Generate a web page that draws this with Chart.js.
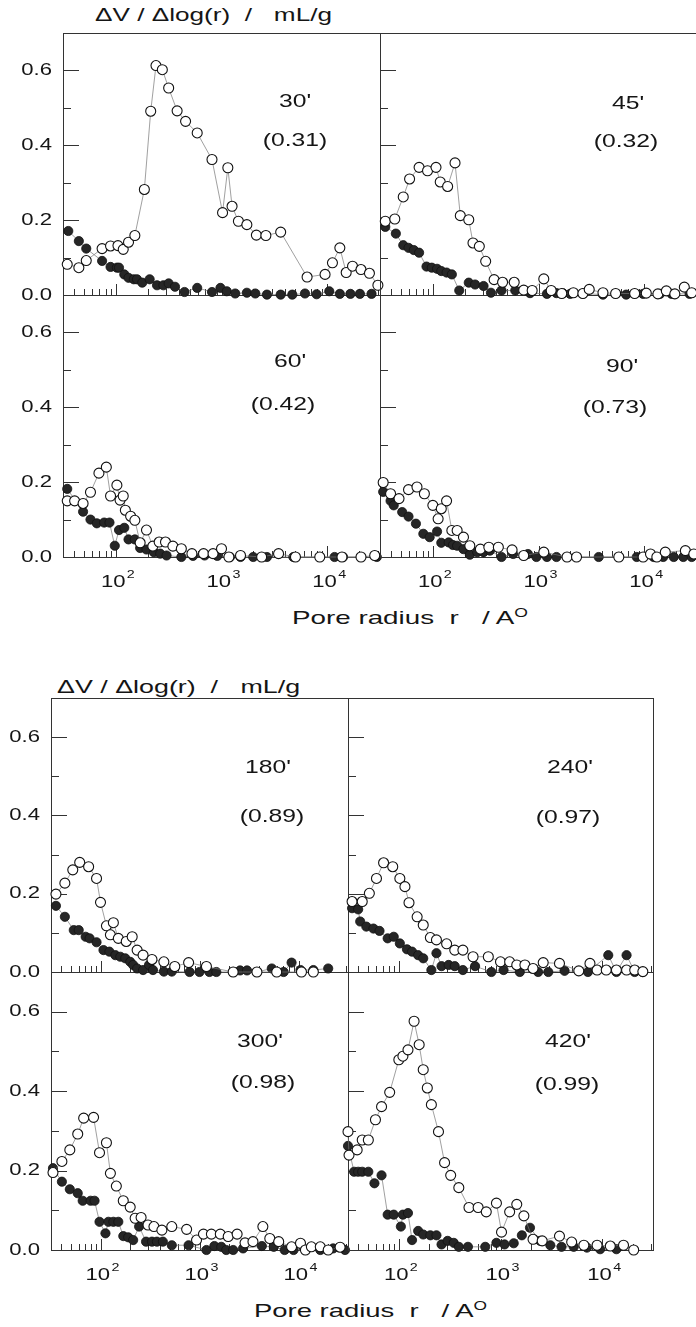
<!DOCTYPE html>
<html>
<head>
<meta charset="utf-8">
<script src="https://cdn.jsdelivr.net/npm/chart.js@4.4.0/dist/chart.umd.min.js"></script>
<style>
  html, body { margin: 0; padding: 0; background: #fff; }
  body { width: 696px; height: 1327px; overflow: hidden; position: relative; font-family: "Liberation Sans", Arial, sans-serif; color: #151515; }
  canvas { position: absolute; }
  .title { position: absolute; white-space: pre; font-size: 19px; line-height: 20px; transform-origin: 0 50%; }
  .title sup { font-size: 12px; vertical-align: 7px; line-height: 0; }
</style>
</head>
<body>
<div class="title" data-w="237" style="left:95px; top:5px">ΔV / Δlog(r)  /   mL/g</div>
<div class="title" data-w="236" style="left:292px; top:608px">Pore radius  r   / A<sup>O</sup></div>
<div class="title" data-w="243" style="left:57px; top:677px">ΔV / Δlog(r)  /   mL/g</div>
<div class="title" data-w="233" style="left:254px; top:1301px">Pore radius  r   / A<sup>O</sup></div>
<script>
// each point: [log10(r / Å), ΔV/Δlog(r) in mL/g]
// open = open circles, fill = filled circles
const open30 = [[1.54,0.082],[1.65,0.073],[1.72,0.092],[1.87,0.124],[1.95,0.131],[2.02,0.132],[2.07,0.122],[2.12,0.141],[2.18,0.159],[2.27,0.282],[2.33,0.491],[2.38,0.613],[2.44,0.602],[2.50,0.553],[2.58,0.492],[2.66,0.464],[2.77,0.433],[2.91,0.362],[3.01,0.22],[3.06,0.34],[3.10,0.237],[3.16,0.197],[3.24,0.188],[3.33,0.16],[3.42,0.159],[3.56,0.168],[3.81,0.048],[3.98,0.055],[4.05,0.086],[4.12,0.126],[4.18,0.06],[4.24,0.077],[4.32,0.068],[4.40,0.058],[4.48,0.026]];
const fill30 = [[1.55,0.171],[1.65,0.144],[1.72,0.124],[1.87,0.091],[1.95,0.075],[2.01,0.073],[2.03,0.073],[2.08,0.055],[2.12,0.046],[2.17,0.042],[2.20,0.042],[2.25,0.033],[2.32,0.042],[2.39,0.026],[2.45,0.026],[2.50,0.031],[2.56,0.022],[2.65,0.008],[2.77,0.019],[2.91,0.008],[2.99,0.019],[3.05,0.01],[3.13,0.004],[3.24,0.006],[3.32,0.004],[3.43,0.001],[3.56,0.001],[3.67,0.001],[3.79,0.004],[3.90,0.002],[4.02,0.01],[4.12,0.003],[4.22,0.003],[4.31,0.003],[4.42,0.003]];

const open45 = [[1.55,0.197],[1.64,0.203],[1.72,0.262],[1.78,0.31],[1.87,0.341],[1.95,0.332],[2.03,0.341],[2.07,0.302],[2.14,0.29],[2.21,0.353],[2.26,0.212],[2.34,0.201],[2.38,0.139],[2.44,0.13],[2.50,0.09],[2.58,0.041],[2.66,0.034],[2.77,0.034],[2.86,0.013],[2.94,0.012],[3.05,0.043],[3.12,0.012],[3.22,0.004],[3.33,0.006],[3.42,0.004],[3.48,0.015],[3.61,0.006],[3.73,0.004],[3.91,0.004],[4.02,0.005],[4.13,0.003],[4.21,0.011],[4.29,0.003],[4.38,0.021],[4.45,0.006]];
const fill45 = [[1.55,0.182],[1.65,0.164],[1.72,0.133],[1.77,0.126],[1.82,0.12],[1.87,0.113],[1.94,0.076],[1.99,0.073],[2.04,0.07],[2.08,0.064],[2.13,0.06],[2.18,0.055],[2.25,0.012],[2.34,0.033],[2.40,0.028],[2.48,0.024],[2.55,0.006],[2.65,0.012],[2.78,0.012],[2.92,0.005],[3.08,0.003],[3.17,0.005],[3.23,0.005],[3.30,0.003],[3.42,0.004],[3.61,0.001],[3.83,0.001],[3.99,0.003],[4.15,0.003],[4.26,0.003],[4.43,0.003]];

const open60 = [[1.54,0.15],[1.61,0.15],[1.69,0.143],[1.76,0.173],[1.84,0.224],[1.91,0.24],[1.95,0.163],[2.01,0.192],[2.04,0.152],[2.07,0.163],[2.09,0.125],[2.14,0.109],[2.18,0.098],[2.23,0.038],[2.29,0.072],[2.35,0.029],[2.41,0.04],[2.47,0.04],[2.54,0.029],[2.62,0.022],[2.72,0.009],[2.83,0.009],[2.92,0.009],[3.00,0.022],[3.07,0.0],[3.18,0.004],[3.38,0.0],[3.54,0.009],[3.70,0.0],[3.93,0.0],[4.14,0.0],[4.32,0.0],[4.45,0.004]];
const fill60 = [[1.54,0.182],[1.69,0.121],[1.76,0.1],[1.82,0.09],[1.89,0.092],[1.94,0.092],[1.99,0.03],[2.03,0.072],[2.08,0.078],[2.12,0.047],[2.18,0.047],[2.23,0.024],[2.29,0.02],[2.36,0.013],[2.42,0.009],[2.48,0.004],[2.62,0.0],[2.73,0.003],[2.84,0.004],[2.96,0.003],[3.08,0.0],[3.18,0.0],[3.30,0.0],[3.43,0.0],[3.68,0.0],[4.07,0.0],[4.15,0.0],[4.47,0.0]];

const open90 = [[1.53,0.199],[1.60,0.169],[1.68,0.156],[1.77,0.18],[1.85,0.187],[1.92,0.169],[2.00,0.138],[2.05,0.102],[2.08,0.129],[2.13,0.15],[2.18,0.071],[2.23,0.071],[2.29,0.053],[2.35,0.03],[2.45,0.021],[2.53,0.026],[2.62,0.026],[2.75,0.019],[2.86,0.004],[3.05,0.013],[3.27,0.0],[3.36,0.0],[3.76,0.0],[3.99,0.0],[4.06,0.008],[4.12,0.0],[4.20,0.013],[4.39,0.017],[4.47,0.008]];
const fill90 = [[1.53,0.174],[1.60,0.15],[1.63,0.138],[1.71,0.12],[1.77,0.108],[1.84,0.089],[1.91,0.062],[1.97,0.053],[2.04,0.068],[2.08,0.038],[2.15,0.039],[2.19,0.032],[2.23,0.03],[2.29,0.021],[2.35,0.006],[2.42,0.013],[2.48,0.013],[2.54,0.017],[2.65,0.0],[2.76,0.008],[2.90,0.008],[2.98,0.0],[3.08,0.0],[3.17,0.0],[3.57,0.0],[3.93,0.0],[4.09,0.0],[4.18,0.0],[4.28,0.0],[4.37,0.0],[4.45,0.0]];

const open180 = [[1.55,0.199],[1.64,0.227],[1.72,0.261],[1.79,0.28],[1.88,0.269],[1.96,0.239],[2.00,0.178],[2.06,0.118],[2.10,0.095],[2.13,0.126],[2.18,0.086],[2.26,0.078],[2.32,0.09],[2.37,0.056],[2.43,0.043],[2.52,0.032],[2.64,0.026],[2.75,0.014],[2.89,0.024],[3.07,0.014],[3.34,0.0],[3.58,0.0],[3.78,0.0],[4.03,0.0],[4.15,0.0]];
const fill180 = [[1.55,0.169],[1.64,0.141],[1.73,0.107],[1.78,0.107],[1.85,0.09],[1.89,0.086],[1.96,0.076],[2.03,0.056],[2.09,0.052],[2.15,0.043],[2.20,0.039],[2.25,0.035],[2.30,0.026],[2.33,0.018],[2.37,0.009],[2.43,0.005],[2.49,0.018],[2.53,0.005],[2.64,0.001],[2.72,0.001],[2.90,0.0],[3.00,0.0],[3.10,0.0],[3.17,0.0],[3.34,0.0],[3.41,0.004],[3.48,0.004],[3.58,0.0],[3.73,0.009],[3.85,0.0],[3.93,0.024],[4.02,0.005],[4.15,0.005],[4.30,0.009]];

const open240 = [[1.54,0.18],[1.64,0.18],[1.71,0.201],[1.78,0.239],[1.85,0.279],[1.94,0.269],[2.01,0.239],[2.06,0.218],[2.10,0.177],[2.18,0.141],[2.24,0.12],[2.31,0.088],[2.37,0.082],[2.47,0.072],[2.55,0.056],[2.63,0.056],[2.73,0.039],[2.88,0.039],[3.00,0.026],[3.09,0.026],[3.16,0.018],[3.24,0.018],[3.32,0.009],[3.42,0.024],[3.58,0.022],[3.77,0.003],[3.88,0.022],[3.95,0.005],[4.04,0.005],[4.14,0.005],[4.24,0.005],[4.32,0.005],[4.40,0.001]];
const fill240 = [[1.54,0.163],[1.60,0.16],[1.62,0.129],[1.68,0.116],[1.75,0.111],[1.81,0.105],[1.89,0.086],[1.95,0.09],[2.01,0.073],[2.08,0.058],[2.13,0.052],[2.19,0.043],[2.24,0.035],[2.32,0.005],[2.37,0.048],[2.42,0.015],[2.49,0.018],[2.55,0.015],[2.63,0.005],[2.75,0.015],[2.91,0.0],[3.03,0.005],[3.19,0.0],[3.37,0.0],[3.47,0.0],[3.63,0.003],[3.86,0.0],[4.06,0.043],[4.14,0.0],[4.24,0.043],[4.32,0.0],[4.40,0.0]];

const open300 = [[1.52,0.195],[1.61,0.223],[1.69,0.252],[1.77,0.292],[1.83,0.332],[1.93,0.334],[1.99,0.245],[2.06,0.27],[2.10,0.193],[2.16,0.161],[2.23,0.124],[2.30,0.108],[2.35,0.08],[2.41,0.082],[2.48,0.063],[2.54,0.059],[2.62,0.05],[2.72,0.059],[2.87,0.052],[2.97,0.025],[3.04,0.04],[3.12,0.04],[3.21,0.04],[3.29,0.034],[3.38,0.04],[3.46,0.018],[3.54,0.021],[3.64,0.059],[3.71,0.029],[3.80,0.021],[3.93,0.008],[4.02,0.017],[4.07,0.0],[4.13,0.008],[4.22,0.008],[4.30,0.0],[4.42,0.007]];
const fill300 = [[1.52,0.206],[1.61,0.172],[1.69,0.153],[1.77,0.143],[1.82,0.124],[1.90,0.124],[1.94,0.124],[1.99,0.071],[2.05,0.042],[2.08,0.071],[2.13,0.071],[2.18,0.071],[2.23,0.035],[2.28,0.032],[2.33,0.025],[2.39,0.059],[2.46,0.021],[2.52,0.021],[2.57,0.021],[2.63,0.021],[2.72,0.012],[2.89,0.012],[3.07,0.0],[3.15,0.01],[3.22,0.008],[3.27,0.0],[3.34,0.0],[3.44,0.004],[3.63,0.01],[3.75,0.008],[3.86,0.0],[3.95,0.0],[4.22,0.0],[4.35,0.004],[4.47,0.0]];

const open420 = [[1.50,0.298],[1.51,0.239],[1.59,0.252],[1.64,0.277],[1.70,0.277],[1.77,0.328],[1.83,0.361],[1.91,0.397],[2.00,0.479],[2.04,0.488],[2.09,0.504],[2.15,0.576],[2.20,0.517],[2.24,0.454],[2.28,0.408],[2.32,0.366],[2.39,0.298],[2.45,0.22],[2.51,0.188],[2.59,0.157],[2.69,0.107],[2.78,0.107],[2.86,0.096],[2.96,0.118],[3.01,0.045],[3.09,0.096],[3.16,0.115],[3.23,0.086],[3.32,0.027],[3.41,0.023],[3.58,0.035],[3.70,0.02],[3.82,0.012],[3.95,0.012],[4.08,0.01],[4.21,0.012],[4.31,0.0]];
const fill420 = [[1.50,0.262],[1.56,0.197],[1.60,0.197],[1.64,0.197],[1.70,0.197],[1.76,0.168],[1.83,0.188],[1.89,0.089],[1.95,0.089],[2.02,0.059],[2.04,0.089],[2.09,0.093],[2.13,0.025],[2.19,0.048],[2.24,0.039],[2.31,0.037],[2.37,0.037],[2.42,0.014],[2.48,0.023],[2.54,0.018],[2.59,0.008],[2.68,0.008],[2.85,0.008],[2.96,0.018],[3.04,0.014],[3.13,0.017],[3.21,0.037],[3.29,0.056],[3.39,0.023],[3.49,0.012],[3.60,0.008],[3.72,0.008],[3.85,0.006],[3.98,0.002],[4.14,0.002]];

const yTickValues = [0.1, 0.2, 0.3, 0.4, 0.5, 0.6];
const yLabelValues = [0, 0.2, 0.4, 0.6];
const xDecades = [2, 3, 4];

const FONT = '"Liberation Sans", Arial, sans-serif';
const SX = 1.3; // the scanned lettering is wide

// bottom rows first so the upper panels' points sit on the shared border
const panels = [
    { time: "60'",  frac: '(0.42)', open: open60,  fill: fill60,  box: [63, 295, 380, 557],   yLabels: true,  xLabels: true, at: [227, 67, 220, 110] },
    { time: "90'",  frac: '(0.73)', open: open90,  fill: fill90,  box: [380, 295, 697, 557],  yLabels: false, xLabels: true, at: [242, 72, 235, 113] },
    { time: "30'",  frac: '(0.31)', open: open30,  fill: fill30,  box: [63, 33, 380, 295],    yLabels: true,  xLabels: false, at: [232, 69, 232, 108] },
    { time: "45'",  frac: '(0.32)', open: open45,  fill: fill45,  box: [380, 33, 697, 295],   yLabels: false, xLabels: false, at: [248, 71, 246, 109] },
    { time: "300'", frac: '(0.98)', open: open300, fill: fill300, box: [51, 972, 348, 1250],  yLabels: true,  xLabels: true, at: [209, 70, 212, 111] },
    { time: "420'", frac: '(0.99)', open: open420, fill: fill420, box: [348, 972, 653, 1250], yLabels: false, xLabels: true, at: [220, 70, 219, 113] },
    { time: "180'", frac: '(0.89)', open: open180, fill: fill180, box: [51, 698, 348, 972],   yLabels: true,  xLabels: false, at: [217, 70, 221, 119] },
    { time: "240'", frac: '(0.97)', open: open240, fill: fill240, box: [348, 698, 653, 972],  yLabels: false, xLabels: false, at: [222, 70, 220, 120] }
];

const wideText = (ctx, txt, x, y, align) => {
    ctx.save();
    ctx.translate(x, y);
    ctx.scale(SX, 1);
    ctx.textAlign = align;
    ctx.textBaseline = 'middle';
    ctx.fillText(txt, 0, 0);
    ctx.restore();
};

const panelFrame = {
    id: 'panelFrame',
    beforeDatasetsDraw(chart) {
        const { ctx, chartArea: a, scales: { x, y } } = chart;
        ctx.save();
        ctx.strokeStyle = '#333';
        ctx.lineWidth = 1;
        ctx.strokeRect(a.left + 0.5, a.top + 0.5, a.right - a.left, a.bottom - a.top);
        ctx.beginPath();
        // inward ticks on the left edge
        yTickValues.forEach(v => {
            const py = Math.round(y.getPixelForValue(v)) + 0.5;
            const len = Math.round(v * 10) % 2 ? 8 : 16;
            ctx.moveTo(a.left, py);
            ctx.lineTo(a.left + len, py);
        });
        // inward log ticks on the bottom edge
        [1, 2, 3, 4].forEach(d => {
            for (let k = 1; k <= 9; k++) {
                const v = d + Math.log10(k);
                if (v <= x.min || v >= x.max) continue;
                const px = Math.round(x.getPixelForValue(v)) + 0.5;
                ctx.moveTo(px, a.bottom);
                ctx.lineTo(px, a.bottom - (k === 1 ? 11 : 6));
            }
        });
        ctx.stroke();
        ctx.restore();
    },
    afterDatasetsDraw(chart, args, o) {
        const { ctx, chartArea: a, scales: { x, y } } = chart;
        ctx.save();
        ctx.fillStyle = '#151515';
        ctx.font = '17px ' + FONT;
        if (o.yLabels) {
            yLabelValues.forEach(v => wideText(ctx, v.toFixed(1), a.left - 11, y.getPixelForValue(v), 'right'));
        }
        if (o.xLabels) {
            xDecades.forEach(d => {
                ctx.font = '17px ' + FONT;
                const w1 = ctx.measureText('10').width;
                ctx.font = '11px ' + FONT;
                const w2 = ctx.measureText(String(d)).width;
                const total = (w1 + w2 + 1) * SX;
                const px = x.getPixelForValue(d) + 2;
                const py = a.bottom + 25;
                ctx.save();
                ctx.translate(px - total / 2, py);
                ctx.scale(SX, 1);
                ctx.textAlign = 'left';
                ctx.textBaseline = 'middle';
                ctx.font = '17px ' + FONT;
                ctx.fillText('10', 0, 0);
                ctx.font = '11px ' + FONT;
                ctx.fillText(String(d), w1 + 1, -7);
                ctx.restore();
            });
        }
        ctx.font = '19px ' + FONT;
        wideText(ctx, o.time, a.left + o.at[0], a.top + o.at[1], 'center');
        wideText(ctx, o.frac, a.left + o.at[2], a.top + o.at[3], 'center');
        ctx.restore();
    }
};

const toPoints = arr => arr.map(([x, y]) => ({ x, y }));

panels.forEach(p => {
    const [l, t, r, b] = p.box;
    const cv = document.createElement('canvas');
    cv.width = r - l + 72;
    cv.height = b - t + 52;
    cv.style.left = (l - 60) + 'px';
    cv.style.top = (t - 12) + 'px';
    document.body.appendChild(cv);

    new Chart(cv, {
        type: 'scatter',
        data: {
            datasets: [
                {
                    data: toPoints(p.open),
                    showLine: true,
                    borderColor: '#777',
                    borderWidth: 0.7,
                    pointRadius: 5,
                    pointBackgroundColor: '#fff',
                    pointBorderColor: '#111',
                    pointBorderWidth: 1.1,
                    clip: 8,
                    order: 0
                },
                {
                    data: toPoints(p.fill),
                    showLine: true,
                    borderColor: '#777',
                    borderWidth: 0.7,
                    pointRadius: 4.6,
                    pointBackgroundColor: '#262626',
                    pointBorderColor: '#111',
                    pointBorderWidth: 0.8,
                    clip: 8,
                    order: 1
                }
            ]
        },
        options: {
            responsive: false,
            animation: false,
            devicePixelRatio: 1,
            events: [],
            layout: { padding: { left: 60, top: 12, right: 12, bottom: 40 } },
            scales: {
                x: { type: 'linear', min: 1.5, max: 4.5, display: false },
                y: { type: 'linear', min: 0, max: 0.7, display: false }
            },
            plugins: {
                legend: { display: false },
                tooltip: { enabled: false },
                panelFrame: { time: p.time, frac: p.frac, at: p.at, yLabels: p.yLabels, xLabels: p.xLabels }
            }
        },
        plugins: [panelFrame]
    });
});

// stretch the HTML titles to the width they have in the scan
document.querySelectorAll('.title').forEach(el => {
    const w = el.getBoundingClientRect().width;
    el.style.transform = 'scaleX(' + (el.dataset.w / w).toFixed(3) + ')';
});
</script>
</body>
</html>
